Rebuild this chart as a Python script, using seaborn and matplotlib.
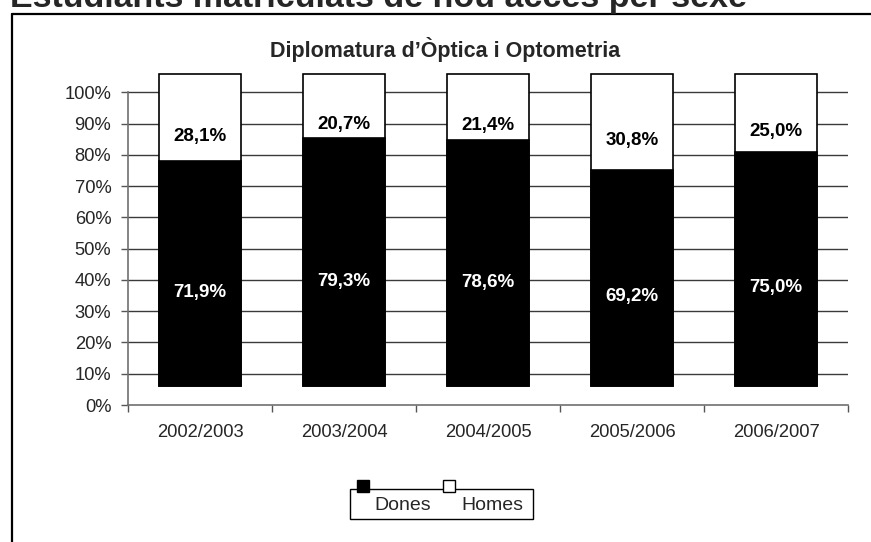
import matplotlib
matplotlib.use("Agg")
import matplotlib.pyplot as plt
import seaborn as sns
import pandas as pd
from matplotlib.patches import Rectangle
from matplotlib.lines import Line2D

years = ["2002/2003", "2003/2004", "2004/2005", "2005/2006", "2006/2007"]
dones = [71.9, 79.3, 78.6, 69.2, 75.0]
homes = [28.1, 20.7, 21.4, 30.8, 25.0]
dones_labels = ["71,9%", "79,3%", "78,6%", "69,2%", "75,0%"]
homes_labels = ["28,1%", "20,7%", "21,4%", "30,8%", "25,0%"]
y_ticks = [0, 10, 20, 30, 40, 50, 60, 70, 80, 90, 100]
y_tick_labels = ["0%", "10%", "20%", "30%", "40%", "50%", "60%", "70%", "80%", "90%", "100%"]
main_title = "Estudiants matriculats de nou accés per sexe"
chart_title = "Diplomatura d\u2019Òptica i Optometria"
series_names = ["Dones", "Homes"]

sns.set_style("white")
plt.rcParams["font.family"] = ["Liberation Sans", "DejaVu Sans"]

W, H = 871, 542
fig = plt.figure(figsize=(W / 100, H / 100), dpi=100)

def fx(px):
    return px / W

def fy(py):
    return 1 - py / H

ax = fig.add_axes([fx(128), fy(405), fx(848) - fx(128), fy(61) - fy(405)])

df = pd.DataFrame({"year": years, "dones": dones, "homes": homes})
df["total"] = df["dones"] + df["homes"]

offset = 6.0  # 3D shift of the bars in the original chart
bar_width = 0.57

sns.barplot(data=df, x="year", y="total", color="white", edgecolor="black",
            linewidth=1.2, width=bar_width, saturation=1, ax=ax, zorder=2)
sns.barplot(data=df, x="year", y="dones", color="black", edgecolor="black",
            linewidth=1.2, width=bar_width, saturation=1, ax=ax, zorder=3)
for p in ax.patches:
    p.set_y(p.get_y() + offset)

for i in range(len(years)):
    ax.text(i, dones[i] / 2, dones_labels[i], ha="center", va="center",
            color="white", fontsize=13.5, fontweight="bold", zorder=5)
    ax.text(i, dones[i] + homes[i] / 2, homes_labels[i], ha="center", va="center",
            color="black", fontsize=13.5, fontweight="bold", zorder=5)

ax.set_ylim(0, 110)
ax.set_xlim(-0.5, len(years) - 0.5)
for yv in y_ticks[1:]:
    ax.axhline(yv, color="#3a3a3a", linewidth=1.0, zorder=1)
ax.set_yticks(y_ticks)
ax.set_yticklabels(y_tick_labels, fontsize=13.2)
ax.set_xticks(range(len(years)))
ax.set_xticklabels(years, fontsize=13.2)
ax.set_xticks([i - 0.5 for i in range(len(years) + 1)], minor=True)
ax.tick_params(axis="x", which="major", length=0, pad=14)
ax.tick_params(axis="x", which="minor", length=5, width=1, color="#555555", direction="out", bottom=True)
ax.tick_params(axis="y", which="major", length=5, width=1, color="#555555", direction="out", left=True, pad=7)
ax.set_xlabel("")
ax.set_ylabel("")
for s in ["top", "right"]:
    ax.spines[s].set_visible(False)
for s in ["left", "bottom"]:
    ax.spines[s].set_color("#707070")
    ax.spines[s].set_linewidth(1.2)
ax.spines["left"].set_bounds(0, 100)

fig.text(fx(445), fy(50), chart_title, ha="center", va="center", fontsize=15.5, fontweight="bold")

# main title (cut off at the top in the original)
fig.text(fx(10), fy(7.5), main_title, ha="left", va="baseline", fontsize=24.5, fontweight="bold")

# outer frame
fig.add_artist(Line2D([fx(12), 1.01], [fy(14), fy(14)], color="black", linewidth=1.6))
fig.add_artist(Line2D([fx(12), fx(12)], [fy(14), -0.01], color="black", linewidth=1.6))

# legend
fig.add_artist(Rectangle((fx(350), fy(519)), fx(533) - fx(350), fy(489) - fy(519),
                         facecolor="white", edgecolor="black", linewidth=1.0,
                         transform=fig.transFigure))
sq = 12
for cx, col in [(363, "black"), (449, "white")]:
    fig.add_artist(Rectangle((fx(cx - sq / 2), fy(486 + sq / 2)), fx(sq), sq / H,
                             facecolor=col, edgecolor="black", linewidth=1.0,
                             transform=fig.transFigure))
fig.text(fx(403), fy(505), series_names[0], ha="center", va="center", fontsize=14)
fig.text(fx(492), fy(505), series_names[1], ha="center", va="center", fontsize=14)

fig.savefig("out.png", dpi=100)
